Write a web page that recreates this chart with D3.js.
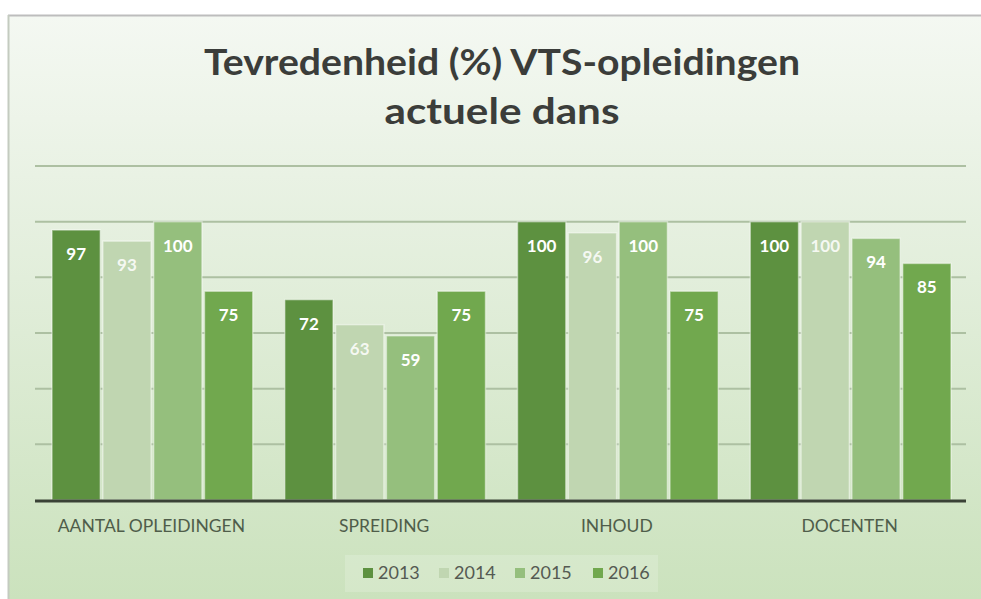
<!DOCTYPE html>
<html>
<head>
<meta charset="utf-8">
<script src="https://cdn.jsdelivr.net/npm/d3@7"></script>
<style>
  html, body { margin: 0; padding: 0; background: #fff; }
  svg { display: block; }
</style>
</head>
<body>
<svg id="chart" width="981" height="599"></svg>
<script>
// data
var categories = ['AANTAL OPLEIDINGEN', 'SPREIDING', 'INHOUD', 'DOCENTEN'];
var years = ['2013', '2014', '2015', '2016'];
var v2013 = [97, 72, 100, 100];
var v2014 = [93, 63, 96, 100];
var v2015 = [100, 59, 100, 94];
var v2016 = [75, 75, 75, 85];
var yTicks = [0, 20, 40, 60, 80, 100, 120];

var series = [v2013, v2014, v2015, v2016];
var colors = ['#5d9140', '#c0d6b1', '#95bf7d', '#71a84e'];

var W = 981, H = 599;
var plotLeft = 35, plotRight = 966, plotTop = 166, plotBottom = 500;

var svg = d3.select('#chart');

// background
var defs = svg.append('defs');
var grad = defs.append('linearGradient')
  .attr('id', 'bg')
  .attr('x1', 0).attr('y1', 0).attr('x2', 0).attr('y2', 1);
grad.append('stop').attr('offset', '0%').attr('stop-color', '#f4f8f2');
grad.append('stop').attr('offset', '45%').attr('stop-color', '#e2eedb');
grad.append('stop').attr('offset', '100%').attr('stop-color', '#cbe2bd');

svg.append('rect')
  .attr('x', 8).attr('y', 16)
  .attr('width', W - 8).attr('height', H - 16)
  .style('fill', 'url(#bg)');
svg.append('line')
  .attr('x1', 8).attr('x2', W).attr('y1', 15.5).attr('y2', 15.5)
  .style('stroke', '#bdbdbd').style('stroke-width', 2);
svg.append('line')
  .attr('x1', 8.5).attr('x2', 8.5).attr('y1', 15).attr('y2', H)
  .style('stroke', '#c4cbc0').style('stroke-width', 2);

// title
var title = svg.append('text')
  .attr('x', 502).attr('text-anchor', 'middle')
  .style('font-family', 'Lato, "Open Sans", sans-serif')
  .style('font-weight', 'bold')
  .style('font-size', '37px')
  .style('fill', '#3b3d3a');
title.append('tspan').attr('x', 502).attr('y', 75)
  .attr('textLength', 596).attr('lengthAdjust', 'spacingAndGlyphs')
  .text('Tevredenheid (%) VTS-opleidingen');
title.append('tspan').attr('x', 502).attr('y', 124)
  .attr('textLength', 235).attr('lengthAdjust', 'spacingAndGlyphs')
  .text('actuele dans');

// scales
var x0 = d3.scaleBand().domain(categories).range([plotLeft, plotRight]).paddingInner(0).paddingOuter(0);
var x1 = d3.scaleBand().domain(years).range([17, x0.bandwidth() - 15]).paddingInner(0.05);
var y = d3.scaleLinear().domain([0, 120]).range([plotBottom, plotTop]);

// gridlines
svg.append('g')
  .selectAll('line')
  .data(yTicks.slice(1))
  .enter()
  .append('line')
  .attr('x1', plotLeft).attr('x2', plotRight)
  .attr('y1', function (d) { return y(d); })
  .attr('y2', function (d) { return y(d); })
  .style('stroke', '#adc0a2')
  .style('stroke-width', 2);

// bars
var groups = svg.append('g')
  .selectAll('g')
  .data(categories)
  .enter()
  .append('g')
  .attr('transform', function (d) { return 'translate(' + x0(d) + ',0)'; });

var cellData = function (d, i) {
  return years.map(function (yr, j) { return { year: yr, value: series[j][i], idx: j }; });
};

groups.selectAll('rect')
  .data(cellData)
  .enter()
  .append('rect')
  .attr('x', function (d) { return x1(d.year); })
  .attr('y', function (d) { return y(d.value); })
  .attr('width', x1.bandwidth())
  .attr('height', function (d) { return y(0) - y(d.value); })
  .style('fill', function (d) { return colors[d.idx]; })
  .style('stroke', 'rgba(255,255,255,0.45)')
  .style('stroke-width', 1.5);

groups.selectAll('text')
  .data(cellData)
  .enter()
  .append('text')
  .attr('x', function (d) { return x1(d.year) + x1.bandwidth() / 2; })
  .attr('y', function (d) { return y(d.value) + 30; })
  .attr('text-anchor', 'middle')
  .style('font-family', 'Lato, "Open Sans", sans-serif')
  .style('font-weight', 'bold')
  .style('font-size', '17px')
  .style('fill', '#ffffff')
  .style('fill-opacity', function (d) { return d.idx === 1 ? 0.85 : 1; })
  .text(function (d) { return d.value; });

// baseline
svg.append('line')
  .attr('x1', plotLeft).attr('x2', plotRight)
  .attr('y1', y(0) + 1).attr('y2', y(0) + 1)
  .style('stroke', '#3a4236')
  .style('stroke-width', 3);

// category labels
var xAxis = svg.append('g')
  .attr('transform', 'translate(0,' + (y(0) + 10) + ')')
  .call(d3.axisBottom(x0).tickSize(0).tickPadding(10));
xAxis.select('.domain').remove();
xAxis.selectAll('text')
  .style('font-family', 'Lato, "Open Sans", sans-serif')
  .style('font-size', '17.5px')
  .style('fill', '#4f5d4a');

// legend
svg.append('rect')
  .attr('x', 345).attr('y', 555)
  .attr('width', 313).attr('height', 37)
  .style('fill', '#ffffff').style('fill-opacity', 0.18);

var legendX = [363, 439, 515, 593];
var leg = svg.append('g')
  .selectAll('g')
  .data(years)
  .enter()
  .append('g')
  .attr('transform', function (d, i) { return 'translate(' + legendX[i] + ',573)'; });
leg.append('rect')
  .attr('x', 0).attr('y', -5)
  .attr('width', 10).attr('height', 10)
  .style('fill', function (d, i) { return colors[i]; });
leg.append('text')
  .attr('x', 15).attr('y', 6)
  .style('font-family', 'Lato, "Open Sans", sans-serif')
  .style('font-size', '18px')
  .style('fill', '#545a52')
  .text(function (d) { return d; });
</script>
</body>
</html>
